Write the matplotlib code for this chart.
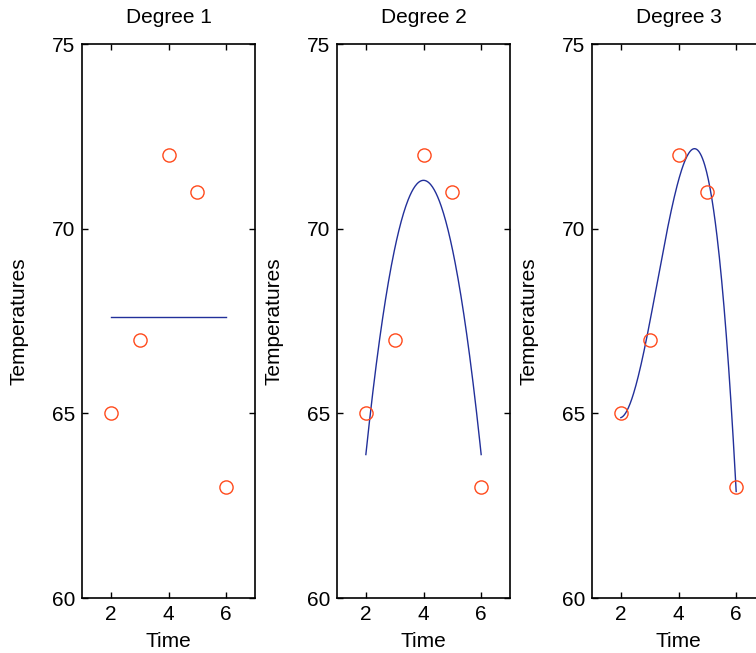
import matplotlib
matplotlib.use("Agg")
import matplotlib.pyplot as plt
import numpy as np

plt.rcParams['font.family'] = ['Liberation Sans', 'DejaVu Sans']

time = [2, 3, 4, 5, 6]
temps = [65, 67, 72, 71, 63]
degrees = [1, 2, 3]

line_color = '#22309a'
dot_color = '#ff4a1c'

fig = plt.figure(figsize=(7.56, 6.53), dpi=100)
lefts = [0.1085, 0.4458, 0.7831]

xx = np.linspace(min(time), max(time), 200)
for left, deg in zip(lefts, degrees):
    ax = fig.add_axes([left, 0.0842, 0.2288, 0.848])
    # least-squares polynomial through the measured points
    coef = np.polyfit(time, temps, deg)
    ax.plot(xx, np.polyval(coef, xx), color=line_color, lw=1.0)
    ax.plot(time, temps, 'o', mfc='none', mec=dot_color, ms=9.5, mew=1.0)
    ax.set_xlim(1, 7)
    ax.set_ylim(60, 75)
    ax.set_xticks([2, 4, 6])
    ax.set_yticks([60, 65, 70, 75])
    ax.tick_params(direction='in', top=True, right=True, labelsize=15,
                   length=4, width=1, pad=5)
    for s in ax.spines.values():
        s.set_linewidth(1.2)
    ax.set_title('Degree %d' % deg, fontsize=15, pad=15)
    ax.set_xlabel('Time', fontsize=15, labelpad=6)
    ax.set_ylabel('Temperatures', fontsize=15, labelpad=17)

fig.savefig('out.png', dpi=100)
